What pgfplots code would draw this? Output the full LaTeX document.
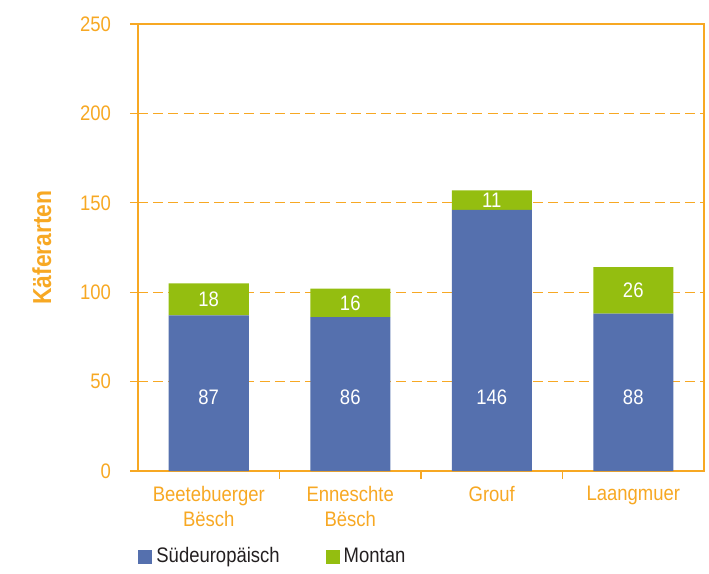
\documentclass[border=0pt]{standalone}
\usepackage{fontspec}
\setmainfont{Liberation Sans}[FakeStretch=0.88]
\usepackage{pgfplots}
\pgfplotsset{compat=1.18}
\definecolor{orng}{HTML}{F7A823}
\definecolor{blu}{HTML}{5570AE}
\definecolor{grn}{HTML}{94BE10}
\definecolor{txt}{HTML}{231F20}

\begin{document}
\begin{tikzpicture}
\begin{axis}[name=ax,
  scale only axis, width=283pt, height=223.5pt,
  ybar stacked, bar width=40pt,
  xmin=-0.5, xmax=3.5, ymin=0, ymax=250,
  ytick={0,50,...,250},
  xtick={0.5,1.5,2.5}, xticklabels={},
  xtick pos=bottom, ytick pos=left,
  extra x ticks={0,1,2,3},
  extra x tick labels={{Beetebuerger\\Bësch},{Enneschte\\Bësch},Grouf,Laangmuer},
  extra x tick style={tick style={draw=none}, grid=none,
    tick label style={align=center, text=orng, font=\fontsize{10.5}{12.5}\selectfont}},
  tick align=outside, major tick length=4pt,
  tick style={orng, line width=0.6pt},
  axis line style={orng, line width=0.6pt},
  ymajorgrids, major grid style={orng, line width=0.6pt, dash pattern=on 5pt off 2.6pt},
  yticklabel style={text=orng, font=\fontsize{10.5}{12}\selectfont, xshift=-6pt},
  /pgf/number format/assume math mode=true,
  ylabel={\textbf{Käferarten}},
  ylabel style={at={(axis description cs:-0.17,0.5)}, anchor=center, text=orng,
    font=\fontsize{13}{15}\selectfont},
  legend style={at={(axis description cs:0,0)}, anchor=north west, yshift=-34pt,
    draw=none, fill=none, inner xsep=0pt, legend columns=2,
    font=\fontsize{10.5}{12}\selectfont, text=txt,
    /tikz/every even column/.append style={column sep=21pt}},
  legend image code/.code={\fill[#1] (0pt,-3.5pt) rectangle (7pt,3.5pt);},
  nodes near coords={\pgfplotspointmeta},
  point meta=explicit symbolic,
  every node near coord/.append style={text=white, anchor=center,
    font=\fontsize{10.5}{12}\selectfont},
]
% labels sit mid-segment by default; the blue ones are moved to a common height
\addplot[fill=blu, draw=none,
  every node near coord/.append style={shift={(axis direction cs:0,{41-\pgfplotspointmeta/2})}}]
  coordinates {(0,87)[87] (1,86)[86] (2,146)[146] (3,88)[88]};
\addlegendentry{Südeuropäisch}
\addplot[fill=grn, draw=none]
  coordinates {(0,18)[18] (1,16)[16] (2,11)[11] (3,26)[26]};
\addlegendentry{Montan}
\end{axis}
\path ([xshift=-69pt,yshift=-49.5pt]ax.south west) rectangle ([xshift=2.5pt,yshift=12pt]ax.north east);
\end{tikzpicture}
\end{document}
